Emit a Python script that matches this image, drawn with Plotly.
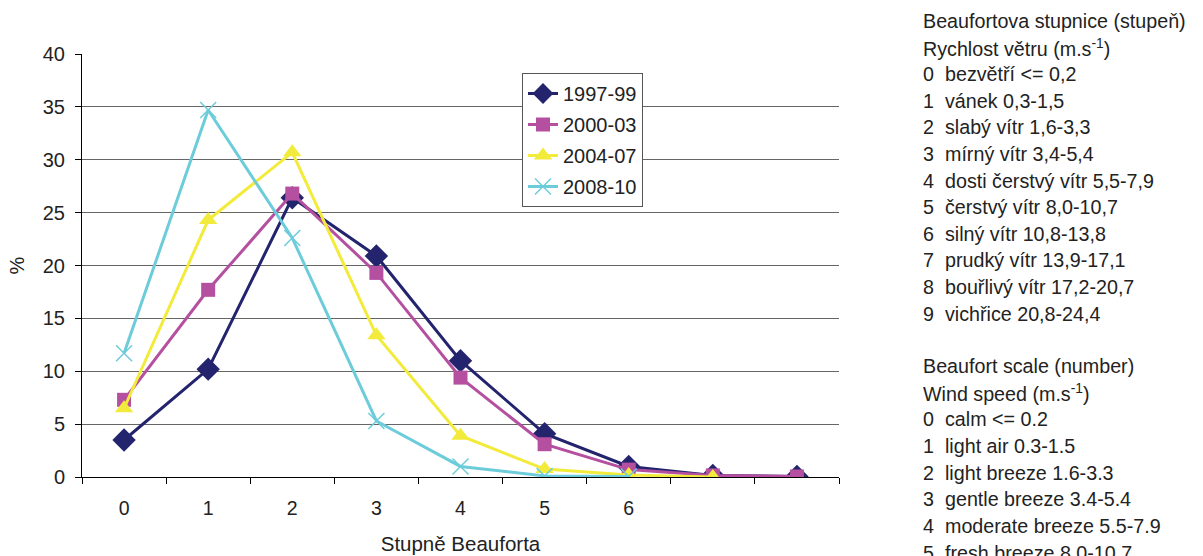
import plotly.graph_objects as go

categories = [0, 1, 2, 3, 4, 5, 6, 7, 8]
tick_labels = ["0", "1", "2", "3", "4", "5", "6"]

s1997 = [3.5, 10.2, 26.4, 20.9, 11.0, 4.1, 1.0, 0.15, 0.05]
s2000 = [7.3, 17.7, 26.8, 19.3, 9.4, 3.1, 0.7, 0.15, 0.05]
s2004 = [6.5, 24.3, 30.7, 13.4, 3.9, 0.75, 0.2, 0.0]
s2008 = [11.7, 34.7, 22.6, 5.3, 1.0, 0.1, 0.05]

series_names = ["1997-99", "2000-03", "2004-07", "2008-10"]

cz_lines = [
    ("", "Beaufortova stupnice (stupeň)"),
    ("", "Rychlost větru (m.s<sup>-1</sup>)"),
    ("0", "bezvětří <= 0,2"),
    ("1", "vánek 0,3-1,5"),
    ("2", "slabý vítr 1,6-3,3"),
    ("3", "mírný vítr 3,4-5,4"),
    ("4", "dosti čerstvý vítr 5,5-7,9"),
    ("5", "čerstvý vítr 8,0-10,7"),
    ("6", "silný vítr 10,8-13,8"),
    ("7", "prudký vítr 13,9-17,1"),
    ("8", "bouřlivý vítr 17,2-20,7"),
    ("9", "vichřice 20,8-24,4"),
]
en_lines = [
    ("", "Beaufort scale (number)"),
    ("", "Wind speed (m.s<sup>-1</sup>)"),
    ("0", "calm <= 0.2"),
    ("1", "light air 0.3-1.5"),
    ("2", "light breeze 1.6-3.3"),
    ("3", "gentle breeze 3.4-5.4"),
    ("4", "moderate breeze 5.5-7.9"),
    ("5", "fresh breeze 8.0-10.7"),
]

FONT = "Liberation Sans, Arial, sans-serif"
TXT = "#222"
W, H = 1203, 556
L, R, T, B = 82, 364, 54, 79
pw, ph = W - L - R, H - T - B

fig = go.Figure()
fig.add_trace(go.Scatter(x=categories[:len(s1997)], y=s1997, name=series_names[0], mode="lines+markers",
                         line=dict(color="#23236e", width=3),
                         marker=dict(symbol="diamond", size=18, color="#23236e"),
                         legendgroup="a"))
fig.add_trace(go.Scatter(x=categories[:len(s2000)], y=s2000, name=series_names[1], mode="lines+markers",
                         line=dict(color="#b4509f", width=3),
                         marker=dict(symbol="square", size=14, color="#b4509f"),
                         legendgroup="b"))
fig.add_trace(go.Scatter(x=categories[:len(s2004)], y=s2004, name=series_names[2], mode="lines+markers",
                         line=dict(color="#f2eb3c", width=3),
                         marker=dict(symbol="triangle-up", size=16, color="#f2eb3c"),
                         legendgroup="c"))
fig.add_trace(go.Scatter(x=categories[:len(s2008)], y=s2008, name=series_names[3], mode="lines+markers",
                         line=dict(color="#6dccda", width=3),
                         marker=dict(symbol="x-thin", size=16, color="#6dccda",
                                     line=dict(color="#6dccda", width=1.5)),
                         legendgroup="d"))

annotations = []
def y_paper(py):
    return (H - B - py) / ph

def x_paper(px):
    return (px - L) / pw

RFS = 19.7

def add_lines(lines, y0, step):
    for i, (num, txt) in enumerate(lines):
        py = y0 + i * step
        if num:
            annotations.append(dict(x=x_paper(921), y=y_paper(py), xref="paper", yref="paper",
                                    text=num, showarrow=False, xanchor="left", yanchor="middle",
                                    font=dict(family=FONT, size=RFS, color=TXT)))
            annotations.append(dict(x=x_paper(943), y=y_paper(py), xref="paper", yref="paper",
                                    text=txt, showarrow=False, xanchor="left", yanchor="middle",
                                    font=dict(family=FONT, size=RFS, color=TXT)))
        else:
            annotations.append(dict(x=x_paper(921), y=y_paper(py), xref="paper", yref="paper",
                                    text=txt, showarrow=False, xanchor="left", yanchor="middle",
                                    font=dict(family=FONT, size=RFS, color=TXT)))

add_lines(cz_lines, 21, 26.6)
add_lines(en_lines, 366, 26.7)

fig.update_layout(
    width=W, height=H,
    margin=dict(l=L, r=R, t=T, b=B, pad=0),
    paper_bgcolor="white", plot_bgcolor="white",
    font=dict(family=FONT, size=20, color=TXT),
    showlegend=True,
    legend=dict(x=x_paper(522), y=y_paper(73), xanchor="left", yanchor="top",
                bordercolor="#555", borderwidth=1, bgcolor="white",
                font=dict(family=FONT, size=20, color=TXT),
                traceorder="grouped", tracegroupgap=2),
    annotations=annotations,
    xaxis=dict(range=[-0.5, 8.5], tickmode="array", tickvals=categories[:len(tick_labels)],
               ticktext=tick_labels, ticks="outside", ticklen=14, tickcolor="rgba(0,0,0,0)",
               showgrid=False, zeroline=False, showline=True, linecolor="black", linewidth=1,
               automargin=False,
               minor=dict(tickvals=[c - 0.5 for c in categories] + [categories[-1] + 0.5],
                          ticks="outside", ticklen=6, tickcolor="black", showgrid=False),
               title=dict(text="Stupně Beauforta", font=dict(size=20.5), standoff=18),
               tickfont=dict(size=19.5)),
    yaxis=dict(range=[0, 40], tickmode="linear", tick0=0, dtick=5, ticks="outside", ticklen=6,
               tickcolor="black", showgrid=True, gridcolor="#666", gridwidth=1,
               zeroline=False, showline=True, linecolor="black", linewidth=1,
               automargin=False,
               title=dict(text="%", font=dict(size=20), standoff=12),
               tickfont=dict(size=20), ticklabelstandoff=6),
)

fig.write_html("out.html")
